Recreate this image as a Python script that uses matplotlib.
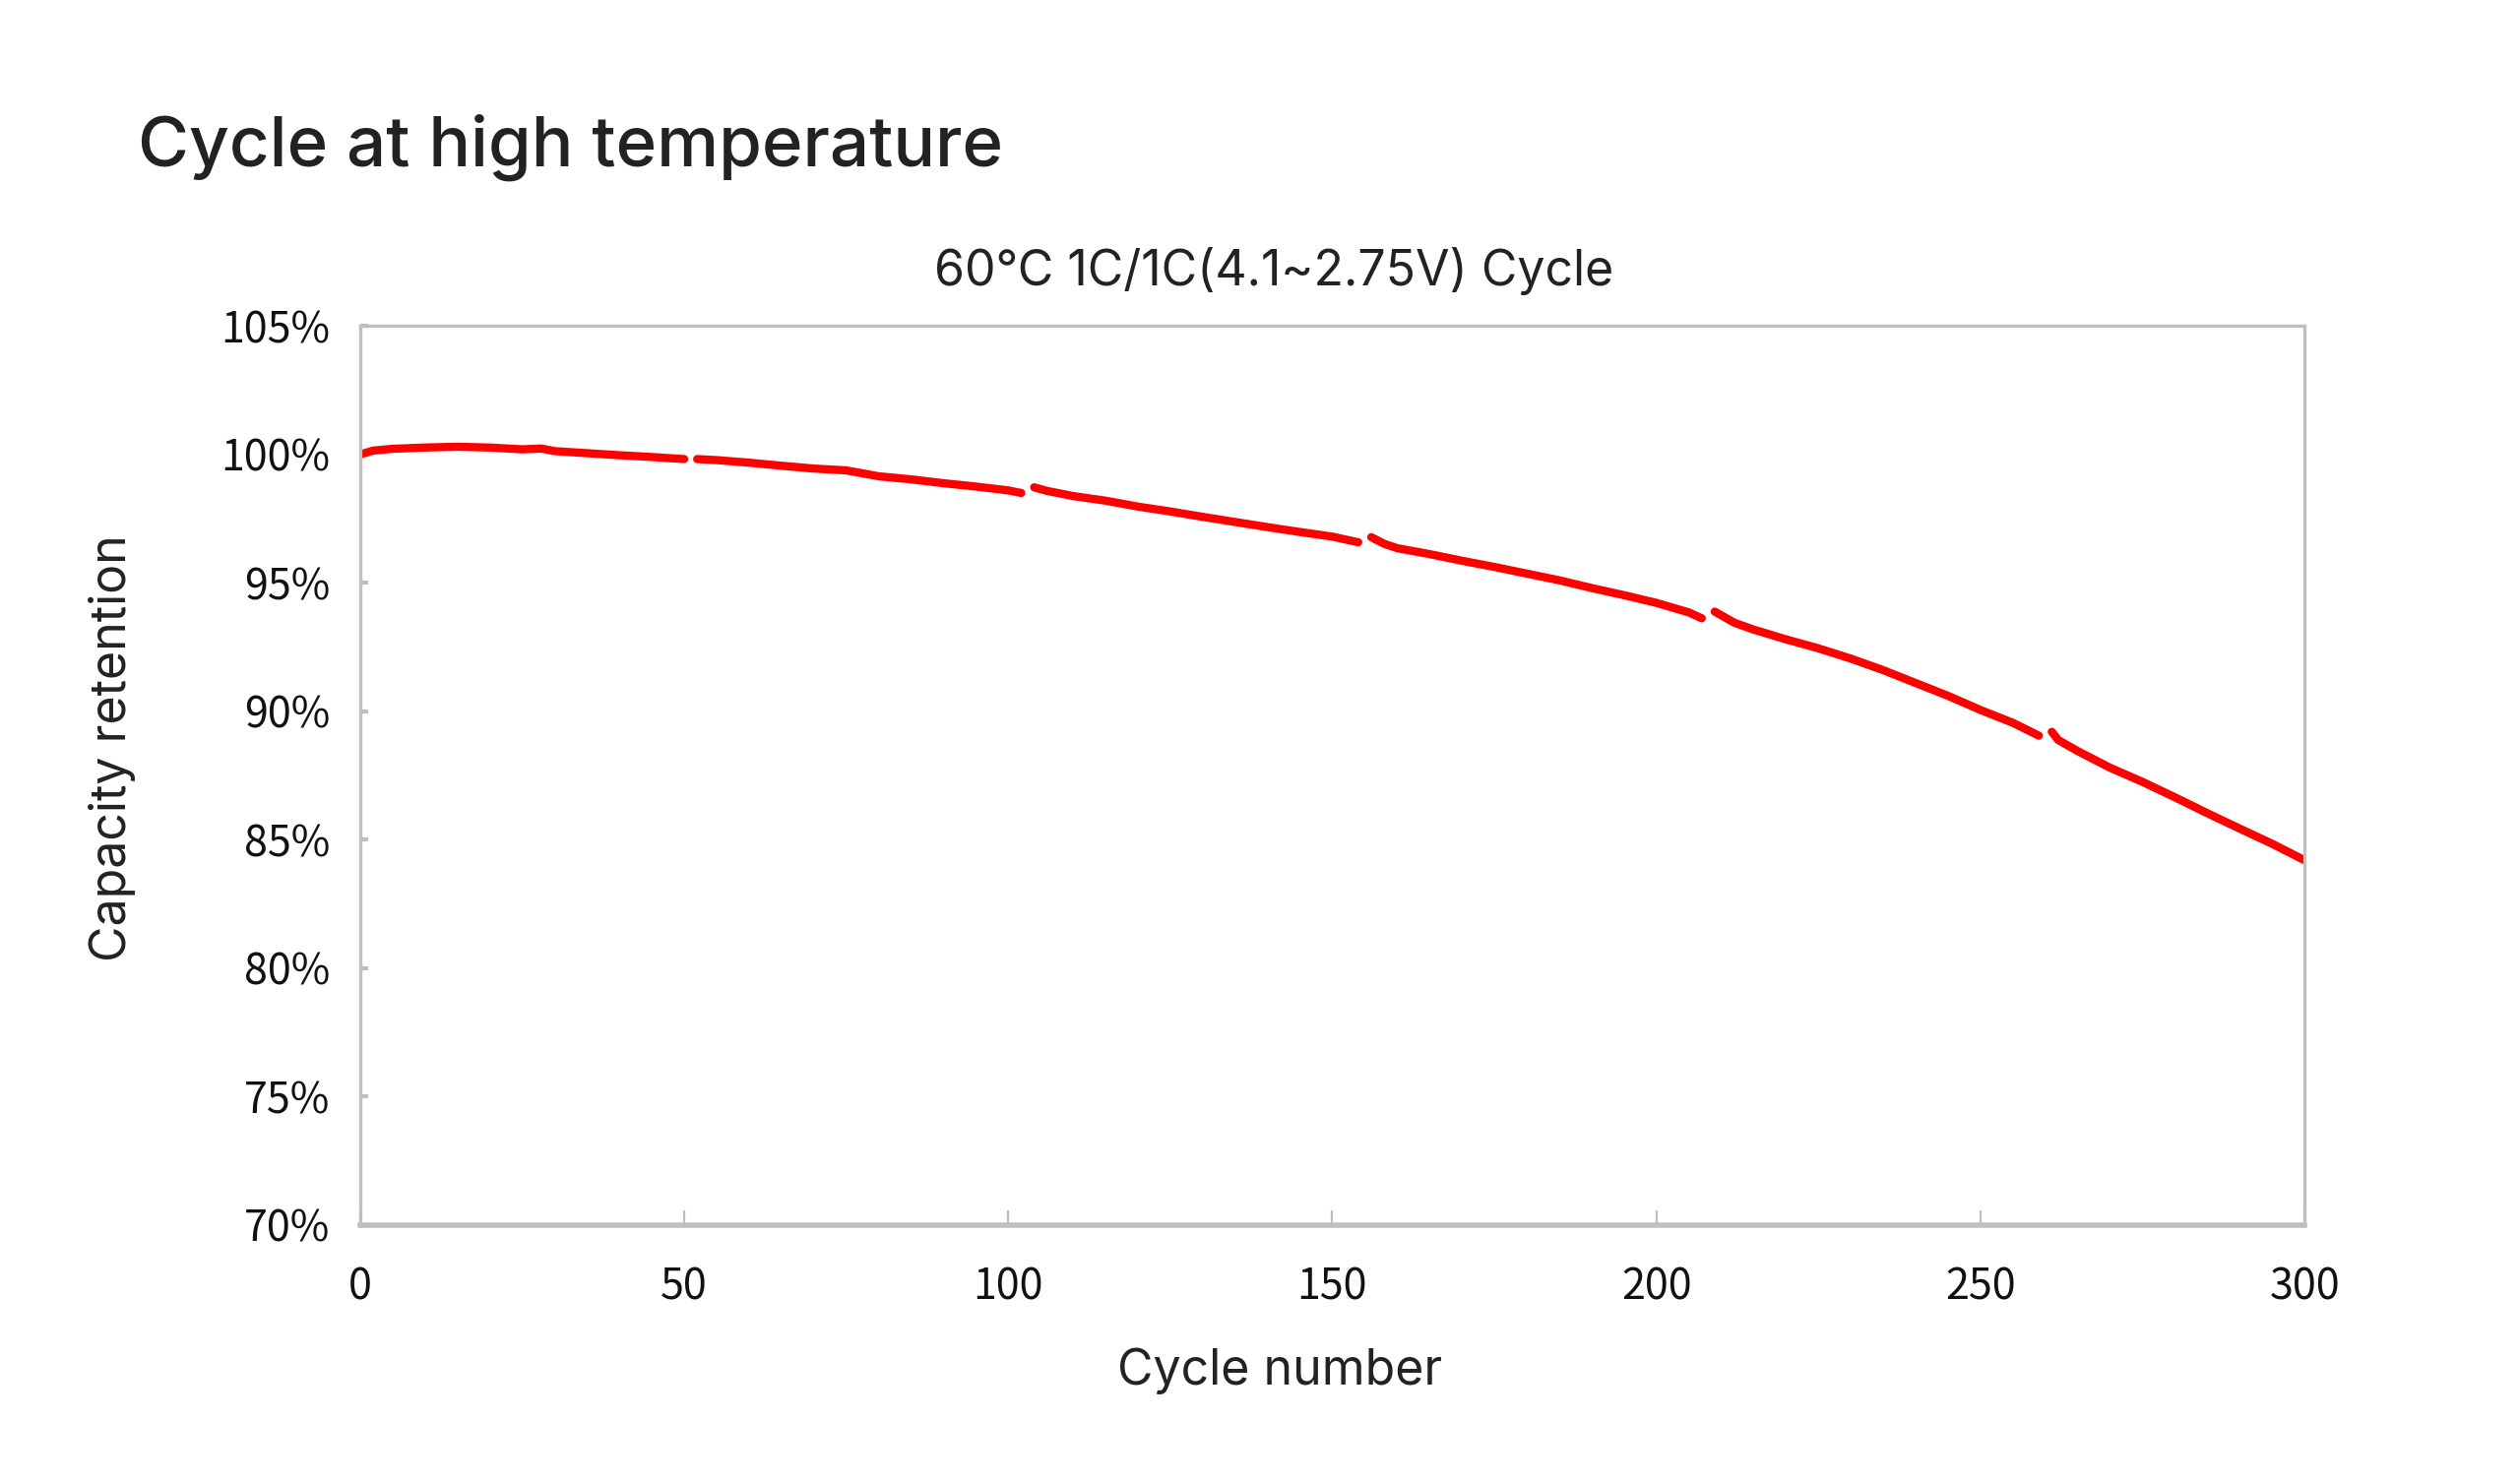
import numpy as np
import matplotlib.pyplot as plt

# retention curve; NaN marks the breaks between test blocks
cycles = [0, 2, 5, 10, 15, 20, 25, 28, 30, 35, 40, 45, 50, 51,
          52, 55, 60, 65, 70, 75, 80, 85, 90, 95, 100, 102, 103,
          104, 106, 110, 115, 120, 125, 130, 135, 140, 145, 150, 154, 155,
          156, 158, 160, 165, 170, 175, 180, 185, 190, 195, 200, 205, 207, 208,
          209, 212, 215, 220, 225, 230, 235, 240, 245, 250, 255, 259, 260,
          261, 262, 265, 270, 275, 280, 285, 290, 295, 300]
retention = [100.0, 100.15, 100.22, 100.27, 100.3, 100.27, 100.2, 100.23, 100.13, 100.05, 99.97, 99.9, 99.82, np.nan,
             99.82, 99.78, 99.68, 99.56, 99.45, 99.38, 99.15, 99.03, 98.88, 98.75, 98.6, 98.5, np.nan,
             98.72, 98.58, 98.38, 98.2, 97.97, 97.78, 97.57, 97.37, 97.17, 96.98, 96.8, 96.58, np.nan,
             96.78, 96.52, 96.35, 96.12, 95.86, 95.62, 95.36, 95.1, 94.8, 94.52, 94.22, 93.85, 93.62, np.nan,
             93.88, 93.45, 93.18, 92.8, 92.45, 92.05, 91.6, 91.1, 90.6, 90.05, 89.55, 89.05, np.nan,
             89.2, 88.88, 88.45, 87.8, 87.25, 86.65, 86.03, 85.43, 84.84, 84.2]

x_ticks = [0, 50, 100, 150, 200, 250, 300]
y_ticks = [70, 75, 80, 85, 90, 95, 100, 105]

TXT = ['Inter', 'Noto Sans CJK KR', 'DejaVu Sans']
NUM = ['Noto Sans CJK KR', 'DejaVu Sans']
GREY = '#bfbfbf'

fig = plt.figure(figsize=(25.6, 15.06), dpi=100)
ax = fig.add_axes([0.1429, 0.1735, 0.9145 - 0.1429, 0.780 - 0.1735])

ax.plot(cycles, retention, color='#ff0000', lw=6, solid_capstyle='round')

ax.set_xlim(0, 300)
ax.set_ylim(70, 105)
ax.set_xticks(x_ticks)
ax.set_yticks(y_ticks)
ax.set_yticklabels(['{}%'.format(v) for v in y_ticks])
for lab in ax.get_xticklabels() + ax.get_yticklabels():
    lab.set_family(NUM)
    lab.set_fontsize(31)
    lab.set_color('#111111')

for s in ax.spines.values():
    s.set_color(GREY)
    s.set_linewidth(2.4)
ax.spines['bottom'].set_linewidth(4)
ax.tick_params(axis='x', direction='in', length=11, width=1.6, color=GREY, pad=30)
ax.tick_params(axis='y', direction='in', length=6, width=3, color=GREY, pad=22)

fig.text(0.0548, 0.888, 'Cycle at high temperature', family=TXT, fontsize=51,
         weight='medium', color='#222222', ha='left', va='baseline')
fig.text(0.5054, 0.817, '60℃ 1C/1C(4.1~2.75V) Cycle', family=TXT, fontsize=36,
         color='#222222', ha='center', va='center')
fig.text(0.508, 0.075, 'Cycle number', family=TXT, fontsize=36,
         color='#222222', ha='center', va='center')
fig.text(0.0446, 0.495, 'Capacity retention', family=TXT, fontsize=36,
         color='#222222', ha='center', va='center', rotation=90)

fig.savefig('out.png', dpi=100, facecolor='white')
